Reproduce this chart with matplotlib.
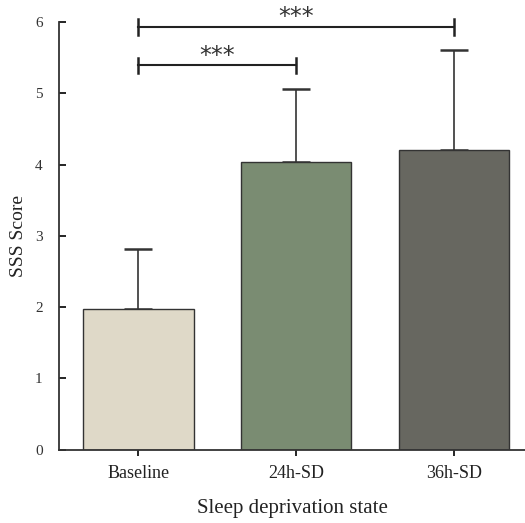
import matplotlib
matplotlib.use("Agg")
import matplotlib.pyplot as plt

# data
groups = ["Baseline", "24h-SD", "36h-SD"]
means = [1.98, 4.03, 4.21]
sds = [0.84, 1.03, 1.40]
colors = ["#dfd9c8", "#7a8c72", "#676760"]

# significance brackets: (left group, right group, height, label)
brackets = [(0, 1, 5.39, "***"), (0, 2, 5.93, "***")]

plt.rcParams["font.family"] = ["Liberation Serif", "DejaVu Serif"]

fig = plt.figure(figsize=(5.25, 5.23), dpi=100)
ax = fig.add_axes([0.113, 0.14, 0.887, 0.818])

x = list(range(len(groups)))
ax.bar(x, means, width=0.7, color=colors, edgecolor="#333333", linewidth=1.0, zorder=2)
ax.errorbar(x, means, yerr=[[0] * len(sds), sds], fmt="none", ecolor="#333333",
            elinewidth=1.2, capsize=10, capthick=1.8, zorder=1)

for i, j, h, lab in brackets:
    ax.plot([i, j], [h, h], color="#222222", lw=1.5, clip_on=False)
    ax.plot([i, i], [h - 0.11, h + 0.11], color="#222222", lw=1.8, clip_on=False)
    ax.plot([j, j], [h - 0.11, h + 0.11], color="#222222", lw=1.8, clip_on=False)
    ax.text((i + j) / 2, h + 0.04, lab, ha="center", va="baseline", fontsize=17,
            color="#333333", family=["DejaVu Sans"])

ax.set_xlim(-0.5, 2.45)
ax.set_ylim(0, 6)
ax.set_yticks(range(0, 7))
ax.set_xticks(x)
ax.set_xticklabels(groups, fontsize=13, color="#222222")
ax.tick_params(axis="y", direction="in", length=5, width=1.2, labelsize=11,
               labelcolor="#333333", pad=12)
ax.tick_params(axis="x", direction="out", length=4, width=1.2, pad=7)
ax.set_xlabel("Sleep deprivation state", fontsize=15, color="#222222", labelpad=12)
ax.set_ylabel("SSS Score", fontsize=14, color="#222222", labelpad=6)

for s in ["top", "right"]:
    ax.spines[s].set_visible(False)
for s in ["left", "bottom"]:
    ax.spines[s].set_linewidth(1.3)
    ax.spines[s].set_color("#333333")

fig.savefig("out.png", dpi=100)
